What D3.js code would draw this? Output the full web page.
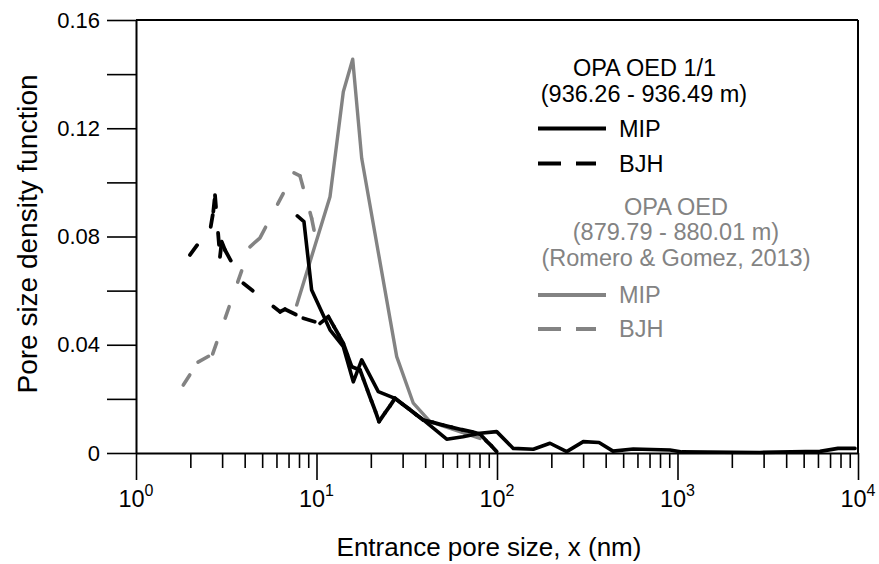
<!DOCTYPE html>
<html><head><meta charset="utf-8">
<script src="https://cdn.jsdelivr.net/npm/d3@7/dist/d3.min.js"></script>
<style>
body{margin:0;background:#fff}
svg{display:block}
text{font-family:"Liberation Sans",Arial,sans-serif}
</style>
</head><body>
<svg id="chart" width="879" height="564"></svg>
<script>
// ---- data ----
const blackMipX = [7.83,8.52,9.40,11.88,14.08,15.99,17.80,22.0,27.22,39.06,52.64,64.8,80.5,99.6,123.1,158.9,196.6,243.3,300.7,367.4,439.2,569,908.8,1059,2864,6160,7749,9625];
const blackMipY = [0.0876,0.0855,0.0602,0.0455,0.0393,0.0263,0.0344,0.0227,0.0202,0.0122,0.0051,0.0060,0.0073,0.0079,0.0017,0.0014,0.0036,0.0005,0.0042,0.0039,0.0007,0.0015,0.0011,0.0004,0.0002,0.0006,0.0017,0.0017];

const blackBjhX = [1.991,2.594,2.681,2.740,2.920,2.984,3.112,3.931,5.764,6.279,6.691,8.45,10.46,11.63,12.50,13.33,14.08,14.85,15.67,17.42,18.21,19.16,20.17,21.23,22.20,23.96,25.54,27.22,29.77,32.54,35.58,39.06,44.20,50.22,56.33,63.99,72.69,80.5,86.93,93.23,99.6];
const blackBjhY = [0.0732,0.0836,0.0892,0.0953,0.0725,0.0781,0.0750,0.0627,0.0541,0.0522,0.0531,0.0498,0.0479,0.0504,0.0467,0.0434,0.0405,0.0362,0.0319,0.0307,0.0272,0.0232,0.0192,0.0153,0.0116,0.0148,0.0174,0.0202,0.0182,0.0163,0.0142,0.0122,0.0113,0.0103,0.0095,0.0086,0.0078,0.0070,0.0046,0.0026,0.0005];

const grayMipX = [7.77,11.88,14.08,15.87,17.80,27.82,34.39,42.55,80.5];
const grayMipY = [0.0547,0.0947,0.1335,0.1455,0.1089,0.0356,0.0184,0.0116,0.0054];

const grayBjhX = [1.828,2.206,2.661,4.281,4.864,7.504,8.10,9.40,9.811];
const grayBjhY = [0.0251,0.0336,0.0366,0.0762,0.0795,0.1035,0.1024,0.0867,0.0806];

const xMajorTicks = [1,10,100,1000,10000];
const xMajorExp = ["0","1","2","3","4"];
const yTickValues = [0,0.02,0.04,0.06,0.08,0.10,0.12,0.14,0.16];
const yTickLabels = ["0","","0.04","","0.08","","0.12","","0.16"];

const legend1Title = ["OPA OED 1/1","(936.26 - 936.49 m)"];
const legend2Title = ["OPA OED","(879.79 - 880.01 m)","(Romero & Gomez, 2013)"];
const seriesNames = ["MIP","BJH"];

// ---- layout ----
const BLACK = "#000000", GRAY = "#838383";
const svg = d3.select("#chart");
const x = d3.scaleLog().domain([1,10000]).range([136,858]);
const y = d3.scaleLinear().domain([0,0.16]).range([453,20]);

// frame (top and right)
svg.append("line").attr("x1",136).attr("x2",858).attr("y1",y(0.16)).attr("y2",y(0.16))
  .attr("stroke","#000").attr("stroke-width",2);
svg.append("line").attr("x1",858).attr("x2",858).attr("y1",y(0.16)).attr("y2",y(0))
  .attr("stroke","#000").attr("stroke-width",2);

// x axis
const xAllTicks = [];
xMajorTicks.forEach((m,i)=>{ if(i<xMajorTicks.length-1){ for(let k=1;k<=9;k++) xAllTicks.push(m*k);} else xAllTicks.push(m); });
const gx = svg.append("g").attr("transform",`translate(0,${y(0)})`)
  .call(d3.axisBottom(x).tickValues(xAllTicks).tickSize(15).tickSizeOuter(0).tickFormat(""));
gx.select(".domain").attr("stroke-width",2);
gx.selectAll(".tick line").attr("stroke-width",1.6)
  .attr("y2", d => xMajorTicks.includes(d) ? 27 : 15);
gx.selectAll(".tick text").remove();
xMajorTicks.forEach((v,i)=>{
  const t = svg.append("text").attr("x",x(v)).attr("y",507)
    .attr("text-anchor","middle").attr("font-size",23.5).attr("fill","#000");
  t.append("tspan").text("10");
  t.append("tspan").attr("dy",-11).attr("font-size",16).text(xMajorExp[i]);
});

// y axis
const gy = svg.append("g").attr("transform","translate(136,0)")
  .call(d3.axisLeft(y).tickValues(yTickValues).tickSize(29).tickSizeOuter(0).tickPadding(7)
    .tickFormat((d,i)=>yTickLabels[i]));
gy.select(".domain").attr("stroke-width",2);
gy.selectAll(".tick line").attr("stroke-width",1.6);
gy.selectAll(".tick text").attr("font-size",22).attr("font-family","Liberation Sans, Arial, sans-serif").attr("fill","#000");

// axis titles
svg.append("text").attr("x",489).attr("y",556).attr("text-anchor","middle")
  .attr("font-size",26).text("Entrance pore size, x (nm)");
svg.append("text").attr("transform","translate(37,234) rotate(-90)").attr("text-anchor","middle")
  .attr("font-size",28).text("Pore size density function");

// series
const toPts = (xs,ys) => xs.map((v,i)=>[x(v), y(ys[i])]);
const line = d3.line();
const plot = svg.append("g");

function solid(xs,ys,color,w){
  plot.append("path").attr("d",line(toPts(xs,ys))).attr("fill","none")
    .attr("stroke",color).attr("stroke-width",w).attr("stroke-linejoin","round").attr("stroke-linecap","round");
}
function dashed(xs,ys,color,w){
  // dash pattern restarts on every segment, as in the original plotting program
  plot.append("g").selectAll("line").data(d3.pairs(toPts(xs,ys))).join("line")
    .attr("x1",d=>d[0][0]).attr("y1",d=>d[0][1]).attr("x2",d=>d[1][0]).attr("y2",d=>d[1][1])
    .attr("stroke",color).attr("stroke-width",w).attr("stroke-linecap","round")
    .attr("stroke-dasharray","12,26");
}
solid(grayMipX,grayMipY,GRAY,3.4);
dashed(grayBjhX,grayBjhY,GRAY,3.6);
solid(blackMipX,blackMipY,BLACK,3.6);
dashed(blackBjhX,blackBjhY,BLACK,3.8);

// legend
const lg = svg.append("g").attr("font-size",23.5);
lg.append("text").attr("x",644.5).attr("y",76).attr("text-anchor","middle").attr("fill",BLACK).text(legend1Title[0]);
lg.append("text").attr("x",644).attr("y",102).attr("text-anchor","middle").attr("fill",BLACK).text(legend1Title[1]);
lg.append("text").attr("x",676).attr("y",215).attr("text-anchor","middle").attr("fill",GRAY).text(legend2Title[0]);
lg.append("text").attr("x",676).attr("y",240).attr("text-anchor","middle").attr("fill",GRAY).text(legend2Title[1]);
lg.append("text").attr("x",676).attr("y",266).attr("text-anchor","middle").attr("fill",GRAY).text(legend2Title[2]);

const items = [
  {y:128.5, color:BLACK, dash:null, name:seriesNames[0]},
  {y:163.5, color:BLACK, dash:"23,15", name:seriesNames[1]},
  {y:295, color:GRAY, dash:null, name:seriesNames[0]},
  {y:329, color:GRAY, dash:"23,15", name:seriesNames[1]}
];
items.forEach(it=>{
  lg.append("line").attr("x1",538).attr("x2", it.dash ? 596 : 606).attr("y1",it.y).attr("y2",it.y)
    .attr("stroke",it.color).attr("stroke-width",3.8).attr("stroke-dasharray",it.dash);
  lg.append("text").attr("x",619).attr("y",it.y+8).attr("fill",it.color).text(it.name);
});
</script>
</body></html>
